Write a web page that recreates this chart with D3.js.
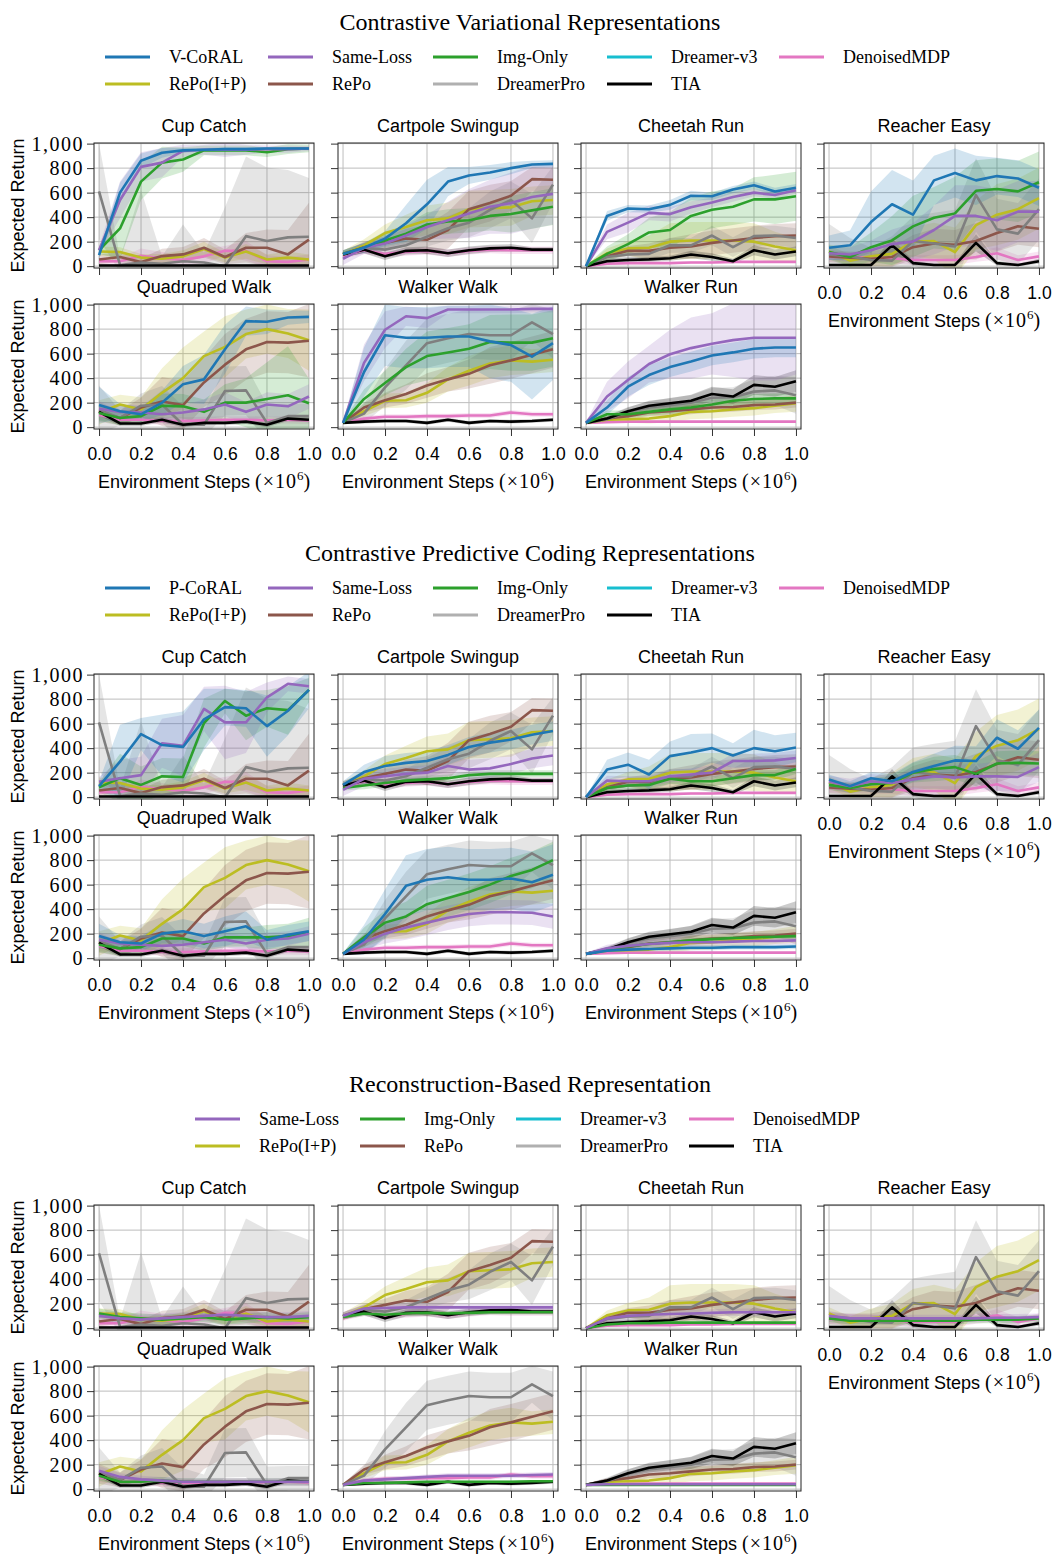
<!DOCTYPE html>
<html>
<head>
<meta charset="utf-8">
<script src="https://cdn.jsdelivr.net/npm/d3@7"></script>
<style>
  body { margin: 0; background: #fff; }
</style>
</head>
<body>
<div id="chart"></div>
<script>
// x steps (x10^6) and task names
const steps = [0, 0.1, 0.2, 0.3, 0.4, 0.5, 0.6, 0.7, 0.8, 0.9, 1.0];
const tasks = ["Cup Catch", "Cartpole Swingup", "Cheetah Run", "Reacher Easy", "Quadruped Walk", "Walker Walk", "Walker Run"];
const yTicks = [0, 200, 400, 600, 800, 1000];
const xTicks = [0, 0.2, 0.4, 0.6, 0.8, 1.0];

// every array below is in task order: cup, cartpole, cheetah, reacher, quadruped, walkerWalk, walkerRun

// ---- baselines (same in all three figures) ----
const repoIP = [
  [120,115,70,60,80,140,70,120,55,70,55],
  [95,170,270,320,375,390,465,472,480,530,540],
  [0,105,145,150,200,210,210,210,200,160,130],
  [120,45,80,100,200,205,115,335,420,465,555],
  [120,185,145,280,400,580,655,760,800,765,710],
  [35,130,215,220,280,390,460,520,545,535,550],
  [35,60,65,70,90,125,130,145,155,175,195]];
const repoIPSd = [
  [40,40,30,40,50,60,40,60,40,50,40],
  [30,50,70,100,120,130,150,150,150,120,120],
  [5,40,60,100,150,150,150,150,150,120,100],
  [50,50,80,100,120,150,200,200,250,250,250],
  [100,80,100,200,250,200,250,200,200,200,250],
  [10,40,60,60,80,100,120,120,120,100,100],
  [10,20,30,40,50,60,60,60,60,60,70]];

const repo = [
  [55,75,33,82,96,150,75,150,150,96,217],
  [100,155,190,225,215,295,465,515,575,710,705],
  [0,80,125,125,150,160,190,210,230,245,250],
  [80,70,60,75,155,185,175,205,270,325,305],
  [125,75,160,210,180,365,510,635,695,690,705],
  [35,160,220,270,340,390,435,505,545,590,635],
  [35,70,90,120,130,145,160,165,180,185,200]];
const repoSd = [
  [40,40,30,60,60,80,60,120,150,200,300],
  [30,40,50,80,120,150,150,150,120,100,100],
  [5,30,40,60,80,100,100,100,100,100,100],
  [50,50,60,80,100,120,120,150,150,150,150],
  [80,60,80,200,200,200,250,250,250,250,300],
  [10,40,60,80,100,100,120,150,150,150,150],
  [10,20,30,30,40,40,40,40,40,40,40]];

const dreamerPro = [
  [610,10,30,20,40,30,0,245,205,235,240],
  [100,150,135,170,240,310,355,460,540,390,665],
  [0,75,95,100,170,170,250,155,245,250,230],
  [95,80,50,45,205,185,160,580,300,265,465],
  [140,75,175,185,20,20,295,300,35,90,90],
  [35,110,325,505,685,725,760,750,750,855,760],
  [35,65,125,160,180,200,240,245,290,300,260]];
const dreamerProSd = [
  [390,60,590,60,300,80,480,650,600,550,480],
  [30,40,50,60,80,100,120,150,150,200,150],
  [5,30,40,50,60,60,80,80,80,80,80],
  [250,150,100,200,200,250,300,300,250,250,250],
  [200,60,100,150,150,100,200,200,150,100,100],
  [10,80,150,200,200,200,200,200,200,150,200],
  [10,30,40,50,60,60,80,80,100,120,150]];

const tia = [
  [5,5,5,5,5,5,5,5,5,5,5],
  [95,135,80,125,130,105,130,145,150,135,135],
  [0,40,50,55,65,95,75,40,130,95,120],
  [10,10,10,170,25,10,10,190,25,10,40],
  [125,30,30,60,20,35,35,45,20,70,60],
  [35,45,50,50,35,60,35,50,45,50,60],
  [35,70,130,175,195,215,270,250,345,330,375]];
const tiaSd = [
  [10,10,10,10,10,10,10,10,10,10,10],
  [20,30,30,30,30,30,30,30,30,20,20],
  [5,20,20,20,20,30,30,20,40,40,40],
  [10,10,10,60,20,10,10,70,20,10,20],
  [30,20,20,20,20,20,20,20,20,20,20],
  [10,15,15,15,15,15,15,15,15,15,15],
  [10,20,30,40,40,50,60,60,80,80,90]];

const denoised = [
  [40,40,85,65,50,80,125,125,40,35,55],
  [80,130,100,115,125,105,125,135,130,130,130],
  [0,20,25,25,25,30,30,35,35,35,35],
  [75,75,70,65,50,50,50,75,105,50,80],
  [100,60,60,50,50,55,60,60,55,60,55],
  [35,70,85,85,90,90,95,95,120,105,105],
  [35,40,45,45,45,45,45,45,45,45,45]];
const denoisedSd = [
  [30,30,60,50,40,60,40,80,50,40,40],
  [20,30,30,30,30,30,30,30,30,30,30],
  [5,10,10,10,10,10,10,10,10,10,10],
  [40,40,40,40,40,40,40,40,50,40,40],
  [40,30,30,30,30,30,30,30,30,30,30],
  [10,20,20,20,20,20,20,20,20,20,20],
  [5,5,5,5,5,5,5,5,5,5,5]];

// ---- figure 1: contrastive variational ----
const vcoral = [
  [90,600,860,925,945,950,955,955,960,960,960],
  [100,150,225,350,505,690,740,765,800,830,835],
  [0,410,470,465,500,575,570,625,660,610,640],
  [150,170,360,505,420,700,760,700,735,715,640],
  [180,130,105,200,350,390,635,865,860,895,900],
  [35,450,750,730,730,740,740,700,670,575,685],
  [35,160,330,425,490,535,585,610,640,650,650]];
const vcoralSd = [
  [30,80,60,40,20,15,15,15,10,10,10],
  [30,40,60,150,200,120,70,60,50,30,30],
  [5,40,30,30,40,40,30,30,30,30,30],
  [100,120,250,280,280,200,200,200,150,150,150],
  [150,60,60,100,150,200,200,120,100,60,50],
  [10,200,250,250,250,250,250,300,300,350,300],
  [10,60,80,80,80,80,80,80,80,80,80]];
const sameLossV = [
  [130,540,810,845,940,950,950,950,955,955,960],
  [60,150,185,250,320,375,430,485,515,565,590],
  [0,280,355,435,425,480,520,565,600,580,620],
  [105,95,130,180,200,295,410,410,375,445,445],
  [150,125,120,105,120,145,185,125,185,170,250],
  [35,525,795,905,890,960,960,960,960,965,965],
  [35,250,385,515,595,645,680,710,730,730,730]];
const sameLossVSd = [
  [30,150,120,120,50,40,60,40,30,30,20],
  [50,50,60,80,100,150,200,220,250,260,250],
  [5,60,80,60,60,50,40,40,30,30,30],
  [50,60,80,120,150,200,250,250,250,250,250],
  [60,60,60,60,60,80,100,80,100,100,100],
  [10,150,150,80,80,30,30,30,30,30,30],
  [10,120,150,150,200,250,250,300,350,350,300]];
const imgOnlyV = [
  [130,308,690,845,870,945,945,945,930,955,960],
  [100,150,210,265,340,365,375,410,425,455,485],
  [0,100,180,275,295,410,460,485,545,545,570],
  [115,75,155,210,325,395,430,615,630,610,685],
  [115,75,90,175,170,125,200,200,230,260,195],
  [35,230,360,490,580,610,640,695,690,690,725],
  [35,105,105,125,145,160,185,215,230,235,235]];
const imgOnlyVSd = [
  [30,250,150,130,100,40,40,40,40,40,30],
  [30,40,60,80,100,100,100,120,150,150,150],
  [5,60,80,120,150,150,150,150,180,200,200],
  [60,80,120,200,250,250,300,250,250,250,250],
  [60,60,60,100,100,100,150,200,300,400,200],
  [10,80,100,150,200,200,200,220,230,230,230],
  [10,30,30,30,40,40,40,40,40,40,40]];

// ---- figure 2: contrastive predictive coding ----
const pcoral = [
  [90,290,515,425,410,635,735,725,580,705,875],
  [100,205,255,280,295,345,410,445,470,510,540],
  [0,225,265,185,335,365,400,340,400,375,405],
  [145,90,155,130,205,255,300,295,485,395,565],
  [180,130,120,200,220,180,220,260,150,190,220],
  [35,150,360,590,640,660,640,640,650,620,680],
  [35,60,70,75,80,85,85,90,90,90,95]];
const pcoralSd = [
  [40,300,130,250,290,250,150,150,250,200,150],
  [30,60,80,80,80,80,80,80,80,80,80],
  [5,80,100,120,120,150,120,100,150,130,120],
  [40,40,50,60,80,100,120,120,150,150,150],
  [100,60,60,80,100,100,120,120,80,80,80],
  [10,120,200,250,250,250,250,250,250,250,250],
  [10,20,20,20,20,20,20,20,20,20,20]];
const sameLossP = [
  [125,155,180,440,420,720,610,610,815,925,905],
  [60,150,170,190,200,255,225,235,270,315,340],
  [0,135,130,130,170,185,200,295,295,300,320],
  [125,90,130,115,145,170,160,170,170,165,245],
  [150,120,110,100,110,130,150,120,150,160,200],
  [35,130,200,250,290,330,360,375,375,370,340],
  [35,80,100,115,125,130,130,135,140,140,145]];
const sameLossPSd = [
  [40,150,150,200,250,180,300,250,120,60,60],
  [50,60,60,60,60,80,80,80,80,80,80],
  [5,40,40,40,50,50,60,60,60,60,60],
  [50,60,60,60,80,100,100,100,120,120,120],
  [60,60,60,60,60,60,60,60,60,60,60],
  [10,60,80,100,100,100,100,100,100,100,100],
  [10,30,30,30,30,30,30,30,30,30,30]];
const imgOnlyP = [
  [80,155,100,170,165,605,785,665,725,710,875],
  [75,95,115,135,145,155,180,190,190,190,190],
  [0,75,95,100,150,130,130,155,180,180,230],
  [100,75,105,115,200,230,245,190,275,280,275],
  [110,80,90,160,160,120,170,170,170,180,210],
  [35,170,290,340,440,490,540,600,670,720,800],
  [35,70,95,115,130,145,155,165,170,175,180]];
const imgOnlyPSd = [
  [40,200,150,150,150,200,100,200,150,200,100],
  [20,30,30,30,30,30,30,30,30,30,30],
  [5,30,30,30,40,40,40,40,40,40,40],
  [40,40,50,60,80,100,100,100,100,100,100],
  [60,60,60,60,60,60,80,80,100,100,120],
  [10,80,100,120,150,150,150,150,150,150,150],
  [10,20,20,20,20,20,20,20,20,20,20]];

// ---- figure 3: reconstruction-based ----
const sameLossR = [
  [100,80,70,80,90,100,110,100,90,90,100],
  [100,160,165,170,170,170,170,170,170,170,170],
  [0,80,100,110,115,120,125,130,130,130,130],
  [100,80,80,80,80,80,80,80,85,85,90],
  [150,100,80,70,60,60,60,60,60,60,60],
  [35,70,80,90,100,110,110,110,110,115,120],
  [35,40,40,40,40,40,40,40,40,40,40]];
const sameLossRSd = [
  [40,40,40,40,40,40,40,40,40,40,40],
  [30,30,30,30,30,30,30,30,30,30,30],
  [5,30,30,30,30,30,30,30,30,30,30],
  [40,30,30,30,30,30,30,30,30,30,30],
  [40,30,30,30,30,30,30,30,30,30,30],
  [10,20,20,20,20,20,20,20,20,20,20],
  [5,5,5,5,5,5,5,5,5,5,5]];
const imgOnlyR = [
  [120,90,80,70,80,90,70,80,90,80,90],
  [90,120,110,120,125,120,125,130,130,130,130],
  [0,30,40,40,45,45,45,45,45,45,45],
  [80,60,60,60,60,60,60,70,70,70,80],
  [110,60,60,70,60,60,60,60,60,60,60],
  [35,50,50,55,60,60,60,60,60,65,65],
  [35,35,35,35,35,35,35,35,35,35,35]];
const imgOnlyRSd = [
  [40,40,40,40,40,40,40,40,40,40,40],
  [20,20,20,20,20,20,20,20,20,20,20],
  [5,10,10,10,10,10,10,10,10,10,10],
  [30,30,30,30,30,30,30,30,30,30,30],
  [40,30,30,30,30,30,30,30,30,30,30],
  [10,10,10,10,10,10,10,10,10,10,10],
  [5,5,5,5,5,5,5,5,5,5,5]];

const C = {
  blue: "#1f77b4", purple: "#9467bd", green: "#2ca02c", cyan: "#17becf",
  pink: "#e377c2", olive: "#bcbd22", brown: "#8c564b", gray: "#7f7f7f", black: "#000000"
};

function baselines() {
  return [
    { m: denoised, sd: denoisedSd, c: C.pink },
    { m: repoIP, sd: repoIPSd, c: C.olive },
    { m: repo, sd: repoSd, c: C.brown },
    { m: dreamerPro, sd: dreamerProSd, c: C.gray },
    { m: tia, sd: tiaSd, c: C.black }
  ];
}

const figures = [
  {
    title: "Contrastive Variational Representations",
    top: 0,
    legendX: [105, 268, 433, 607, 779],
    legend: [
      ["V-CoRAL", C.blue], ["Same-Loss", C.purple], ["Img-Only", C.green], ["Dreamer-v3", C.cyan], ["DenoisedMDP", C.pink],
      ["RePo(I+P)", C.olive], ["RePo", C.brown], ["DreamerPro", "#b0b0b0"], ["TIA", C.black]
    ],
    series: baselines().concat([
      { m: imgOnlyV, sd: imgOnlyVSd, c: C.green },
      { m: sameLossV, sd: sameLossVSd, c: C.purple },
      { m: vcoral, sd: vcoralSd, c: C.blue }
    ])
  },
  {
    title: "Contrastive Predictive Coding Representations",
    top: 531,
    legendX: [105, 268, 433, 607, 779],
    legend: [
      ["P-CoRAL", C.blue], ["Same-Loss", C.purple], ["Img-Only", C.green], ["Dreamer-v3", C.cyan], ["DenoisedMDP", C.pink],
      ["RePo(I+P)", C.olive], ["RePo", C.brown], ["DreamerPro", "#b0b0b0"], ["TIA", C.black]
    ],
    series: baselines().concat([
      { m: imgOnlyP, sd: imgOnlyPSd, c: C.green },
      { m: sameLossP, sd: sameLossPSd, c: C.purple },
      { m: pcoral, sd: pcoralSd, c: C.blue }
    ])
  },
  {
    title: "Reconstruction-Based Representation",
    top: 1062,
    legendX: [195, 360, 516, 689],
    legend: [
      ["Same-Loss", C.purple], ["Img-Only", C.green], ["Dreamer-v3", C.cyan], ["DenoisedMDP", C.pink],
      ["RePo(I+P)", C.olive], ["RePo", C.brown], ["DreamerPro", "#b0b0b0"], ["TIA", C.black]
    ],
    series: baselines().concat([
      { m: imgOnlyR, sd: imgOnlyRSd, c: C.green },
      { m: sameLossR, sd: sameLossRSd, c: C.purple }
    ])
  }
];

const W = 1053, H = 1554;
const PW = 220, PH = 125;
const colLeft = [94, 338, 581, 824];
const rowTop = [143, 304];
const SANS = "'Liberation Sans', Arial, sans-serif";
const SERIF = "'Liberation Serif', 'Times New Roman', serif";

const svg = d3.select("#chart").append("svg")
  .attr("width", W).attr("height", H)
  .style("background", "#fff");

const x = d3.scaleLinear().domain([-0.024, 1.024]).range([0, PW]);
const y = d3.scaleLinear().domain([-15, 1005]).range([PH, 0]);

const line = d3.line().x(d => x(d.s)).y(d => y(d.m));
const area = d3.area().x(d => x(d.s)).y0(d => y(d.m - d.sd)).y1(d => y(d.m + d.sd));

let clipId = 0;

figures.forEach(fig => {
  const f = svg.append("g").attr("transform", `translate(0,${fig.top})`);

  f.append("text")
    .attr("x", 530).attr("y", 30)
    .attr("text-anchor", "middle")
    .style("font-family", SERIF).style("font-size", "24px")
    .text(fig.title);

  // legend, two rows
  const nCols = fig.legendX.length;
  fig.legend.forEach((e, i) => {
    const col = i % nCols, row = Math.floor(i / nCols);
    const lx = fig.legendX[col], ly = 57 + row * 27;
    f.append("line")
      .attr("x1", lx).attr("x2", lx + 45).attr("y1", ly).attr("y2", ly)
      .attr("stroke", e[1]).attr("stroke-width", 3);
    f.append("text")
      .attr("x", lx + 64).attr("y", ly).attr("dy", "0.35em")
      .style("font-family", SERIF).style("font-size", "18px")
      .text(e[0]);
  });

  tasks.forEach((task, ti) => {
    const row = ti < 4 ? 0 : 1;
    const col = ti < 4 ? ti : ti - 4;
    const g = f.append("g").attr("transform", `translate(${colLeft[col]},${rowTop[row]})`);
    const id = "clip" + (clipId++);
    g.append("clipPath").attr("id", id)
      .append("rect").attr("width", PW).attr("height", PH);

    // grid
    g.append("g").selectAll("line").data(yTicks).join("line")
      .attr("x1", 0).attr("x2", PW)
      .attr("y1", d => y(d)).attr("y2", d => y(d))
      .attr("stroke", "#bdbdbd").attr("stroke-width", 1);
    g.append("g").selectAll("line").data(xTicks).join("line")
      .attr("y1", 0).attr("y2", PH)
      .attr("x1", d => x(d)).attr("x2", d => x(d))
      .attr("stroke", "#bdbdbd").attr("stroke-width", 1);

    const rows = fig.series.map(s => steps.map((st, k) => ({ s: st, m: s.m[ti][k], sd: s.sd[ti][k] })));

    const plot = g.append("g").attr("clip-path", `url(#${id})`);
    fig.series.forEach((s, k) => {
      plot.append("path").datum(rows[k])
        .attr("d", area)
        .attr("fill", s.c).attr("fill-opacity", 0.2).attr("stroke", "none");
    });
    fig.series.forEach((s, k) => {
      plot.append("path").datum(rows[k])
        .attr("d", line)
        .attr("fill", "none").attr("stroke", s.c).attr("stroke-width", 2.6)
        .attr("stroke-linejoin", "round");
    });

    // axes
    const yAxis = d3.axisLeft(y).tickValues(yTicks).tickSize(7).tickPadding(3)
      .tickFormat(col === 0 ? d3.format(",") : "");
    const ya = g.append("g").call(yAxis);
    ya.select(".domain").remove();
    ya.selectAll("line").attr("stroke", "#333");
    ya.selectAll("text").style("font-family", SERIF).style("font-size", "20px")
      .style("letter-spacing", "1.5px").attr("fill", "#000");

    const showX = row === 1 || col === 3;
    const xAxis = d3.axisBottom(x).tickValues(xTicks).tickSize(7).tickPadding(12)
      .tickFormat(showX ? d3.format(".1f") : "");
    const xa = g.append("g").attr("transform", `translate(0,${PH})`).call(xAxis);
    xa.select(".domain").remove();
    xa.selectAll("line").attr("stroke", "#333");
    xa.selectAll("text").style("font-family", SANS).style("font-size", "17.5px").attr("fill", "#000");

    g.append("rect").attr("width", PW).attr("height", PH)
      .attr("fill", "none").attr("stroke", "#222").attr("stroke-width", 1);

    g.append("text")
      .attr("x", PW / 2).attr("y", -11)
      .attr("text-anchor", "middle")
      .style("font-family", SANS).style("font-size", "18px")
      .text(task);

    if (col === 0) {
      g.append("text")
        .attr("transform", `translate(${18 - colLeft[0]},${PH / 2}) rotate(-90)`)
        .attr("text-anchor", "middle").attr("dy", "0.35em")
        .style("font-family", SANS).style("font-size", "18px")
        .text("Expected Return");
    }

    if (showX) {
      const t = g.append("text")
        .attr("x", PW / 2).attr("y", PH + 59)
        .attr("text-anchor", "middle")
        .style("font-size", "18px");
      t.append("tspan").style("font-family", SANS).text("Environment Steps ");
      t.append("tspan").style("font-family", SERIF).style("font-size", "20px").style("letter-spacing", "1px").text("(\u00d710");
      t.append("tspan").style("font-family", SERIF).style("font-size", "13px").attr("dy", -8).text("6");
      t.append("tspan").style("font-family", SERIF).style("font-size", "20px").attr("dy", 8).text(")");
    }
  });
});
</script>
</body>
</html>
